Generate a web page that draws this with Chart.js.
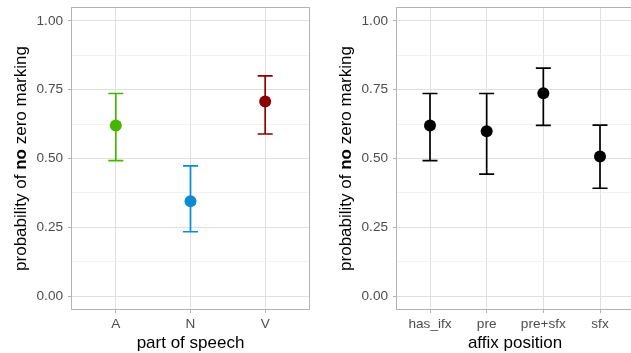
<!DOCTYPE html>
<html><head><meta charset="utf-8">
<script src="https://cdn.jsdelivr.net/npm/chart.js@4"></script>
<style>
html,body{margin:0;padding:0;overflow:hidden;background:#fff;width:631px;height:353px;}
#wrap{position:relative;width:631px;height:353px;overflow:hidden;}
canvas{position:absolute;top:0;}
</style></head><body>
<div id="wrap">
<canvas id="c1" width="316" height="353" style="left:0;width:316px;height:353px"></canvas>
<canvas id="c2" width="324" height="353" style="left:316px;width:324px;height:353px"></canvas>
</div>
<script>
// ---- data ----
const posCategories = ['A', 'N', 'V'];
const posEstimate = [0.620, 0.345, 0.707];
const posLower = [0.492, 0.234, 0.589];
const posUpper = [0.736, 0.473, 0.800];
const posColors = ['#45b500', '#0a8bd2', '#8b0000'];

const affixCategories = ['has_ifx', 'pre', 'pre+sfx', 'sfx'];
const affixEstimate = [0.620, 0.599, 0.737, 0.507];
const affixLower = [0.492, 0.443, 0.620, 0.392];
const affixUpper = [0.736, 0.736, 0.828, 0.621];
const affixColors = ['#000000', '#000000', '#000000', '#000000'];

const yTickValues = [0, 0.125, 0.25, 0.375, 0.5, 0.625, 0.75, 0.875, 1];
const yTitleParts = ['probability of ', 'no', ' zero marking'];

const FONT = '"Liberation Sans", Arial, Helvetica, sans-serif';
const isMajor = v => Math.abs(v * 4 - Math.round(v * 4)) < 1e-6;

const errBarPlugin = {
  id: 'errbars',
  beforeDatasetsDraw(chart, args, opts) {
    const {ctx} = chart;
    const xs = chart.scales.x, ys = chart.scales.y;
    ctx.save();
    ctx.lineWidth = 1.7;
    opts.lower.forEach((lo, i) => {
      const x = xs.getPixelForValue(i + 1);
      const y1 = ys.getPixelForValue(lo);
      const y2 = ys.getPixelForValue(opts.upper[i]);
      const half = 7.5;
      ctx.strokeStyle = opts.colors[i];
      ctx.beginPath();
      ctx.moveTo(x, y1); ctx.lineTo(x, y2);
      ctx.moveTo(x - half, y1); ctx.lineTo(x + half, y1);
      ctx.moveTo(x - half, y2); ctx.lineTo(x + half, y2);
      ctx.stroke();
    });
    ctx.restore();
  }
};

const frameTitlePlugin = {
  id: 'frametitles',
  afterDraw(chart, args, opts) {
    const {ctx, chartArea: a} = chart;
    ctx.save();
    ctx.strokeStyle = '#b3b3b3';
    ctx.lineWidth = 1;
    ctx.strokeRect(a.left + 0.5, a.top + 0.5, a.right - a.left - 1, a.bottom - a.top - 1);
    // x title
    ctx.fillStyle = '#000';
    ctx.font = '17px ' + FONT;
    ctx.textAlign = 'center';
    ctx.textBaseline = 'alphabetic';
    ctx.fillText(opts.xTitle, (a.left + a.right) / 2, 348);
    // y title with bold part
    const fonts = ['17px ' + FONT, 'bold 17px ' + FONT, '17px ' + FONT];
    const widths = yTitleParts.map((t, i) => { ctx.font = fonts[i]; return ctx.measureText(t).width; });
    const total = widths.reduce((s, w) => s + w, 0);
    ctx.translate(a.left - 45, (a.top + a.bottom) / 2);
    ctx.rotate(-Math.PI / 2);
    ctx.textAlign = 'left';
    let x = -total / 2;
    yTitleParts.forEach((t, i) => { ctx.font = fonts[i]; ctx.fillText(t, x, 0); x += widths[i]; });
    ctx.restore();
  }
};

function makeChart(id, cats, est, lo, hi, colors, xTitle, yAxisWidth) {
  new Chart(document.getElementById(id), {
    type: 'scatter',
    data: {
      datasets: [{
        data: est.map((v, i) => ({x: i + 1, y: v})),
        pointRadius: 6,
        pointHoverRadius: 6,
        pointBorderWidth: 0,
        pointBackgroundColor: colors,
        pointBorderColor: colors
      }]
    },
    options: {
      responsive: false,
      animation: false,
      devicePixelRatio: 1,
      layout: {padding: {top: 7, right: 6, bottom: 0, left: 0}},
      plugins: {
        legend: {display: false},
        tooltip: {enabled: false},
        errbars: {lower: lo, upper: hi, colors: colors},
        frametitles: {xTitle: xTitle}
      },
      scales: {
        x: {
          type: 'linear',
          min: 0.4, max: cats.length + 0.6,
          afterBuildTicks: s => { s.ticks = cats.map((c, i) => ({value: i + 1})); },
          afterFit: s => { s.height = 43; s.paddingLeft = 0; s.paddingRight = 0; },
          ticks: {
            callback: v => cats[Math.round(v) - 1],
            color: '#4d4d4d',
            font: {family: FONT, size: 13.6},
            padding: 3,
            maxRotation: 0,
            autoSkip: false
          },
          grid: {color: '#e0e0e0', lineWidth: 1, tickLength: 3, tickColor: '#b3b3b3'},
          border: {display: false}
        },
        y: {
          min: -0.05, max: 1.05,
          afterBuildTicks: s => { s.ticks = yTickValues.map(v => ({value: v})); },
          afterFit: s => { s.width = yAxisWidth; s.paddingTop = 0; s.paddingBottom = 0; },
          ticks: {
            callback: v => isMajor(v) ? v.toFixed(2) : '',
            color: '#4d4d4d',
            font: {family: FONT, size: 13.6},
            padding: 5,
            autoSkip: false
          },
          grid: {
            color: c => isMajor(c.tick.value) ? '#e0e0e0' : '#ededed',
            lineWidth: c => isMajor(c.tick.value) ? 1 : 0.7,
            tickLength: 3,
            tickColor: c => isMajor(c.tick.value) ? '#b3b3b3' : 'rgba(0,0,0,0)'
          },
          border: {display: false}
        }
      }
    },
    plugins: [errBarPlugin, frameTitlePlugin]
  });
}

makeChart('c1', posCategories, posEstimate, posLower, posUpper, posColors, 'part of speech', 71);
makeChart('c2', affixCategories, affixEstimate, affixLower, affixUpper, affixColors, 'affix position', 80);
</script>
</body></html>
